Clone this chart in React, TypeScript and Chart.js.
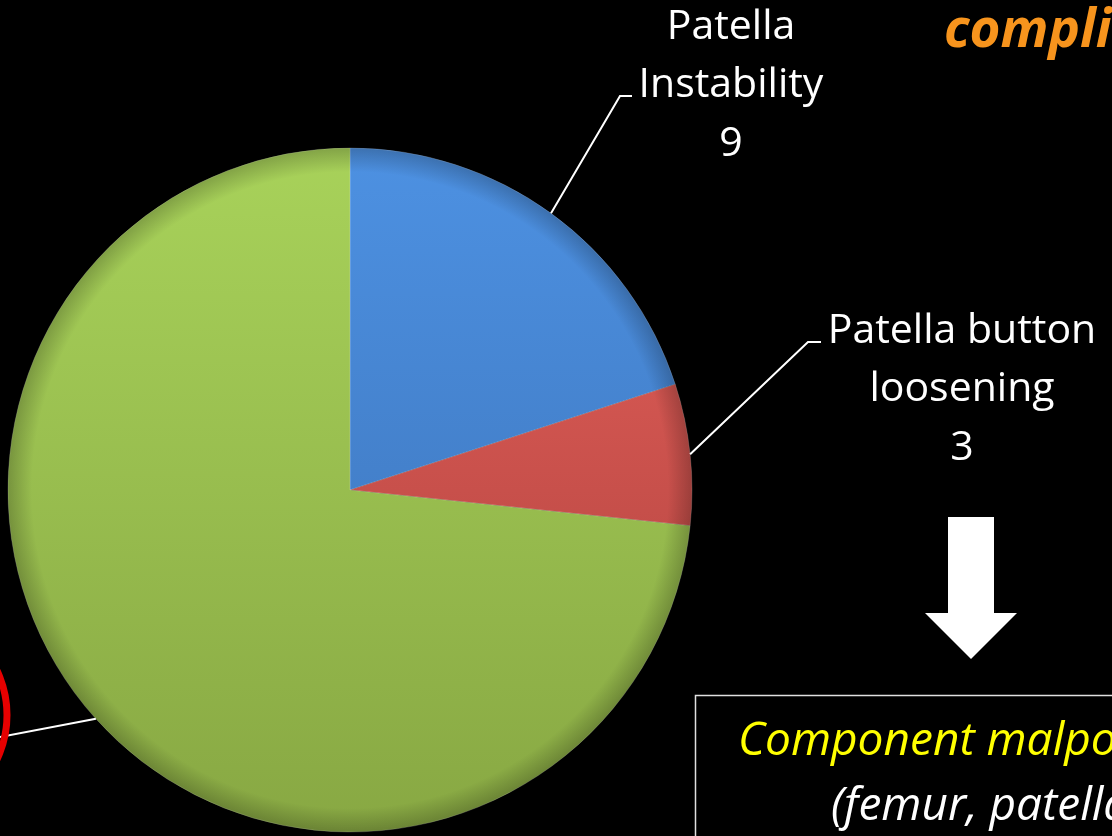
import React, { useEffect, useRef } from "react";
import { Chart, registerables } from "chart.js";

Chart.register(...registerables);

const categories = ["Patella Instability", "Patella button loosening", "Other complications"];
const values = [9, 3, 33];
const labelLines = [["Patella", "Instability", "9"], ["Patella button", "loosening", "3"], []];

const W = 1112;
const H = 836;
const FONT = "'Open Sans', Lato, sans-serif";

function grad(ctx: CanvasRenderingContext2D, top: string, bottom: string) {
  const g = ctx.createLinearGradient(0, 148, 0, 832);
  g.addColorStop(0, top);
  g.addColorStop(1, bottom);
  return g;
}

const overlayPlugin = {
  id: "overlay",
  beforeDraw(chart: any) {
    const { ctx } = chart;
    ctx.save();
    ctx.fillStyle = "#000";
    ctx.fillRect(0, 0, chart.width, chart.height);
    ctx.restore();
  },
  afterDatasetsDraw(chart: any) {
    const { ctx } = chart;
    const meta = chart.getDatasetMeta(0);
    const arcs = meta.data;
    if (!arcs.length) return;
    const cx = arcs[0].x;
    const cy = arcs[0].y;
    const r = arcs[0].outerRadius;
    // rim shading
    ctx.save();
    const rg = ctx.createRadialGradient(cx, cy, r * 0.93, cx, cy, r);
    rg.addColorStop(0, "rgba(0,0,0,0)");
    rg.addColorStop(1, "rgba(0,0,0,0.22)");
    ctx.fillStyle = rg;
    ctx.beginPath();
    ctx.arc(cx, cy, r, 0, Math.PI * 2);
    ctx.fill();
    ctx.restore();

    // leader lines
    const elbows = [
      [[620, 96], [632, 96]],
      [[808, 342], [821, 342]],
      [[-10, 739], [-20, 739]],
    ];
    ctx.save();
    ctx.strokeStyle = "#ffffff";
    ctx.lineWidth = 2;
    arcs.forEach((a: any, i: number) => {
      const mid = (a.startAngle + a.endAngle) / 2;
      const sx = cx + r * Math.cos(mid);
      const sy = cy + r * Math.sin(mid);
      ctx.beginPath();
      ctx.moveTo(sx, sy);
      ctx.lineTo(elbows[i][0][0], elbows[i][0][1]);
      ctx.lineTo(elbows[i][1][0], elbows[i][1][1]);
      ctx.stroke();
    });
    ctx.restore();

    // data labels
    const labelPos = [
      [731, 27],
      [962, 331],
    ];
    ctx.save();
    ctx.fillStyle = "#ffffff";
    ctx.textAlign = "center";
    ctx.textBaseline = "middle";
    ctx.font = `41px ${FONT}`;
    labelPos.forEach((p, i) => {
      labelLines[i].forEach((line, j) => {
        ctx.fillText(line, p[0], p[1] + j * 58.5);
      });
    });
    ctx.restore();

    // red circle (cut off at left)
    ctx.save();
    ctx.strokeStyle = "#e60000";
    ctx.lineWidth = 7;
    ctx.beginPath();
    ctx.arc(-96, 715, 103, 0, Math.PI * 2);
    ctx.stroke();
    ctx.restore();

    // orange title text
    ctx.save();
    ctx.fillStyle = "#f7941d";
    ctx.font = `italic bold 53px ${FONT}`;
    ctx.textAlign = "left";
    ctx.textBaseline = "alphabetic";
    ctx.fillText("complications", 944, 47);
    ctx.restore();

    // arrow
    ctx.save();
    ctx.fillStyle = "#ffffff";
    ctx.beginPath();
    ctx.moveTo(948, 517);
    ctx.lineTo(994, 517);
    ctx.lineTo(994, 613);
    ctx.lineTo(1017, 613);
    ctx.lineTo(971, 659);
    ctx.lineTo(925, 613);
    ctx.lineTo(948, 613);
    ctx.closePath();
    ctx.fill();
    ctx.restore();

    // box
    ctx.save();
    ctx.strokeStyle = "#e0e0e0";
    ctx.lineWidth = 1.5;
    ctx.strokeRect(695.5, 695.5, 600, 300);
    ctx.font = `italic 46px ${FONT}`;
    ctx.textAlign = "left";
    ctx.textBaseline = "alphabetic";
    ctx.fillStyle = "#ffff00";
    ctx.fillText("Component malposition", 738, 755);
    ctx.fillStyle = "#ffffff";
    ctx.fillText("(femur, patella, tibia)", 831, 820);
    ctx.restore();
  },
};

export default function App() {
  const ref = useRef<HTMLCanvasElement | null>(null);
  useEffect(() => {
    if (!ref.current) return;
    const ctx = ref.current.getContext("2d")!;
    const chart = new Chart(ref.current, {
      type: "pie",
      data: {
        labels: categories,
        datasets: [
          {
            data: values,
            backgroundColor: [
              grad(ctx, "#4d91e2", "#3a6fb3"),
              grad(ctx, "#e8625c", "#a83e3a"),
              grad(ctx, "#a8d25a", "#88a843"),
            ],
            borderColor: "rgba(255,255,255,0.18)",
            borderWidth: 1,
          },
        ],
      },
      options: {
        responsive: false,
        animation: false,
        radius: 342,
        layout: { padding: { left: 0, right: 412, top: 144, bottom: 0 } },
        plugins: {
          legend: { display: false },
          tooltip: { enabled: false },
          title: { display: false },
        },
      },
      plugins: [overlayPlugin],
    });
    return () => chart.destroy();
  }, []);
  return (
    <div style={{ position: "fixed", left: 0, top: 0, width: W, height: H, background: "#000" }}>
      <canvas ref={ref} width={W} height={H} style={{ display: "block" }} />
    </div>
  );
}
